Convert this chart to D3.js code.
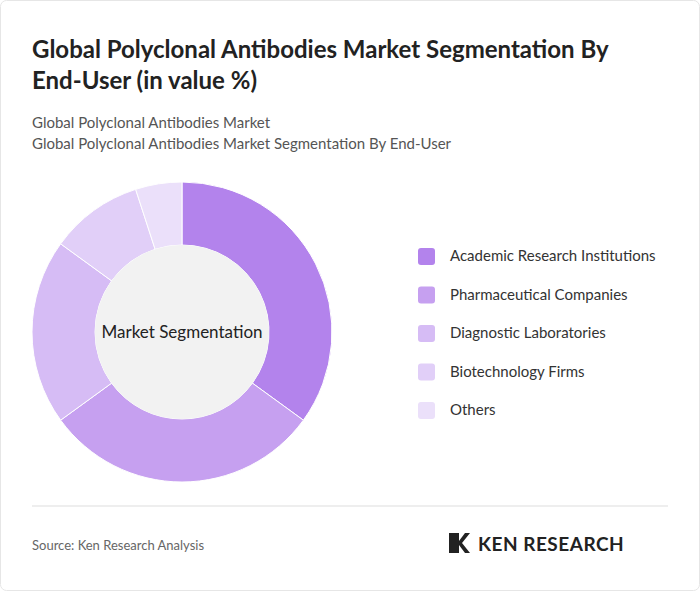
<!DOCTYPE html><html><head><meta charset="utf-8"><script src="https://cdn.jsdelivr.net/npm/d3@7"></script>
<style>body{margin:0;background:#fff;font-family:Lato,"Open Sans",sans-serif}</style></head><body><svg id="c" width="700" height="591"></svg>
<script>
const categories=["Academic Research Institutions","Pharmaceutical Companies","Diagnostic Laboratories","Biotechnology Firms","Others"];
const values=[35,30,20,10,5];
const colors=["#b383ec","#c6a0f0","#d6bcf5","#e1cff8","#ebe0fa"];
const svg=d3.select("#c");
svg.append("rect").attr("x",0.5).attr("y",0.5).attr("width",699).attr("height",590).attr("rx",6).attr("fill","#fff").attr("stroke","#e6e6e6");
svg.append("text").attr("x",32).attr("y",58).attr("font-size",24).attr("font-weight",700).attr("fill","#222").text("Global Polyclonal Antibodies Market Segmentation By");
svg.append("text").attr("x",32).attr("y",89).attr("font-size",24).attr("font-weight",700).attr("fill","#222").text("End-User (in value %)");
svg.append("text").attr("x",32).attr("y",128).attr("font-size",15).attr("fill","#555").text("Global Polyclonal Antibodies Market");
svg.append("text").attr("x",32).attr("y",149).attr("font-size",15).attr("fill","#555").text("Global Polyclonal Antibodies Market Segmentation By End-User");
const g=svg.append("g").attr("transform","translate(182,332)");
const pie=d3.pie().sort(null)(values);
const arc=d3.arc().innerRadius(87).outerRadius(150);
g.selectAll("path").data(pie).join("path").attr("d",arc).attr("fill",(d,i)=>colors[i]).attr("stroke","#fff").attr("stroke-width",1);
g.append("circle").attr("r",87).attr("fill","#f2f2f2");
g.append("text").attr("text-anchor","middle").attr("dy",6).attr("font-size",17).attr("fill","#222").text("Market Segmentation");
const lg=svg.append("g");
categories.forEach((c,i)=>{const y=256+i*38.5;
lg.append("rect").attr("x",418).attr("y",y-8).attr("width",17).attr("height",17).attr("rx",3).attr("fill",colors[i]);
lg.append("text").attr("x",450).attr("y",y+5).attr("font-size",15).attr("fill","#333").text(c);});
svg.append("line").attr("x1",32).attr("x2",668).attr("y1",506).attr("y2",506).attr("stroke","#ddd");
svg.append("text").attr("x",32).attr("y",550).attr("font-size",13).attr("fill","#666").text("Source: Ken Research Analysis");
svg.append("path").attr("d","M449 533 h10 v8 l6 -8 h5 l-8 10 l8 10 h-5 l-6 -8 v8 h-10z").attr("fill","#222");
svg.append("text").attr("x",478).attr("y",551).attr("font-size",19).attr("font-weight",700).attr("fill","#222").attr("letter-spacing",0.5).text("KEN RESEARCH");
</script></body></html>
